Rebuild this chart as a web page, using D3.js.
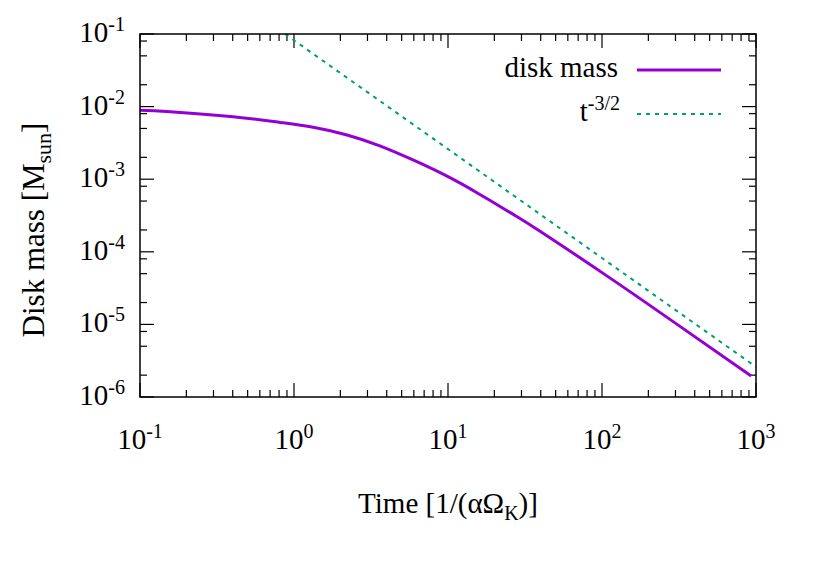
<!DOCTYPE html>
<html>
<head>
<meta charset="utf-8">
<script src="https://cdn.jsdelivr.net/npm/d3@7"></script>
<style>
  body { margin: 0; background: #fff; }
  text { font-family: "Liberation Serif", "DejaVu Serif", serif; fill: #000; }
</style>
</head>
<body>
<script>
(function () {
  'use strict';

  // values
  var diskTime = [0.1, 0.157, 0.402, 0.811, 1.33, 2.21, 3.61, 5.93, 9.86, 16.1, 26.4, 39.6, 113, 321, 930];
  var diskMass = [8.89e-3, 8.48e-3, 7.24e-3, 6.06e-3, 5.19e-3, 4.07e-3, 2.88e-3, 1.84e-3, 1.10e-3, 6.17e-4, 3.30e-4, 1.92e-4, 4.34e-5, 9.39e-6, 1.94e-6];
  var powTime = [0.875, 10, 100, 1000];
  var powMass = [0.1, 2.6e-3, 8.2e-5, 2.6e-6];
  var xTickExp = [-1, 0, 1, 2, 3];
  var yTickExp = [-6, -5, -4, -3, -2, -1];
  var legendLabels = ['disk mass', 't'];

  var W = 830, H = 581,
    left = 140, right = 756, top = 34, bottom = 397,
    fs = 29, fsSmall = 20,
    svgEl, x, y;

  init();

  function init() {
    svgEl = d3.select('body')
      .append('svg')
      .attr('width', W)
      .attr('height', H);

    x = d3.scaleLog().domain([0.1, 1000]).range([left, right]);
    y = d3.scaleLog().domain([1e-6, 0.1]).range([bottom, top]);

    drawTicks();
    drawLines();
    drawFrame();
    drawLabels();
    drawLegend();
  }

  function minorTicks(lo, hi, steps) {
    var out = [], e, k;
    for (e = lo; e < hi; e++) {
      for (k = 0; k < steps.length; k++) {
        out.push(steps[k] * Math.pow(10, e));
      }
    }
    return out;
  }

  function drawTicks() {
    var g = svgEl.append('g')
      .attr('stroke', '#000')
      .attr('stroke-width', 1.2);
    var xMajor = xTickExp.map(function (e) { return Math.pow(10, e); });
    var yMajor = yTickExp.map(function (e) { return Math.pow(10, e); });
    var xMinor = minorTicks(-1, 3, [2, 3, 4, 5, 6, 7, 8, 9]);
    var yMinor = minorTicks(-6, -1, [2, 5, 8]);

    function xt(vals, len) {
      vals.forEach(function (v) {
        g.append('line').attr('x1', x(v)).attr('x2', x(v))
          .attr('y1', bottom).attr('y2', bottom - len);
        g.append('line').attr('x1', x(v)).attr('x2', x(v))
          .attr('y1', top).attr('y2', top + len);
      });
    }
    function yt(vals, len) {
      vals.forEach(function (v) {
        g.append('line').attr('y1', y(v)).attr('y2', y(v))
          .attr('x1', left).attr('x2', left + len);
        g.append('line').attr('y1', y(v)).attr('y2', y(v))
          .attr('x1', right).attr('x2', right - len);
      });
    }
    xt(xMajor, 14);
    xt(xMinor, 7);
    yt(yMajor, 14);
    yt(yMinor, 7);
  }

  function drawLines() {
    var clip = svgEl.append('clipPath').attr('id', 'plotclip');
    clip.append('rect')
      .attr('x', left).attr('y', top)
      .attr('width', right - left).attr('height', bottom - top);

    var line = d3.line()
      .x(function (d) { return x(d[0]); })
      .y(function (d) { return y(d[1]); });

    svgEl.append('path')
      .datum(d3.zip(powTime, powMass))
      .attr('clip-path', 'url(#plotclip)')
      .attr('d', line)
      .attr('fill', 'none')
      .attr('stroke', '#009e73')
      .attr('stroke-width', 2)
      .attr('stroke-dasharray', '4,5');

    svgEl.append('path')
      .datum(d3.zip(diskTime, diskMass))
      .attr('d', line.curve(d3.curveNatural))
      .attr('fill', 'none')
      .attr('stroke', '#9400d3')
      .attr('stroke-width', 3);
  }

  function drawFrame() {
    svgEl.append('rect')
      .attr('x', left).attr('y', top)
      .attr('width', right - left).attr('height', bottom - top)
      .attr('fill', 'none')
      .attr('stroke', '#000')
      .attr('stroke-width', 1.5);
  }

  function powLabel(sel, exp) {
    sel.append('tspan').text('10');
    sel.append('tspan')
      .attr('dy', -11)
      .attr('font-size', fsSmall)
      .text(exp);
  }

  function drawLabels() {
    xTickExp.forEach(function (e) {
      var t = svgEl.append('text')
        .attr('x', x(Math.pow(10, e)))
        .attr('y', 449)
        .attr('text-anchor', 'middle')
        .attr('font-size', fs);
      powLabel(t, e);
    });

    yTickExp.forEach(function (e) {
      var t = svgEl.append('text')
        .attr('x', 125)
        .attr('y', y(Math.pow(10, e)) + 8)
        .attr('text-anchor', 'end')
        .attr('font-size', fs);
      powLabel(t, e);
    });

    var xt = svgEl.append('text')
      .attr('x', (left + right) / 2)
      .attr('y', 513)
      .attr('text-anchor', 'middle')
      .attr('font-size', fs);
    xt.append('tspan').text('Time [1/(\u03b1\u03a9');
    xt.append('tspan').attr('dy', 7).attr('font-size', fsSmall).text('K');
    xt.append('tspan').attr('dy', -7).text(')]');

    var yt = svgEl.append('text')
      .attr('transform', 'translate(44,230) rotate(-90)')
      .attr('text-anchor', 'middle')
      .attr('font-size', 31);
    yt.append('tspan').text('Disk mass [M');
    yt.append('tspan').attr('dy', 7).attr('font-size', 22).text('sun');
    yt.append('tspan').attr('dy', -7).text(']');
  }

  function drawLegend() {
    svgEl.append('text')
      .attr('x', 618).attr('y', 77)
      .attr('text-anchor', 'end')
      .attr('font-size', fs)
      .text(legendLabels[0]);
    svgEl.append('line')
      .attr('x1', 637).attr('x2', 721)
      .attr('y1', 70).attr('y2', 70)
      .attr('stroke', '#9400d3')
      .attr('stroke-width', 3);

    var t = svgEl.append('text')
      .attr('x', 620).attr('y', 121)
      .attr('text-anchor', 'end')
      .attr('font-size', fs);
    t.append('tspan').text(legendLabels[1]);
    t.append('tspan').attr('dy', -11).attr('font-size', fsSmall).text('-3/2');
    svgEl.append('line')
      .attr('x1', 637).attr('x2', 721)
      .attr('y1', 114).attr('y2', 114)
      .attr('stroke', '#009e73')
      .attr('stroke-width', 2)
      .attr('stroke-dasharray', '4,5');
  }
}());
</script>
</body>
</html>
